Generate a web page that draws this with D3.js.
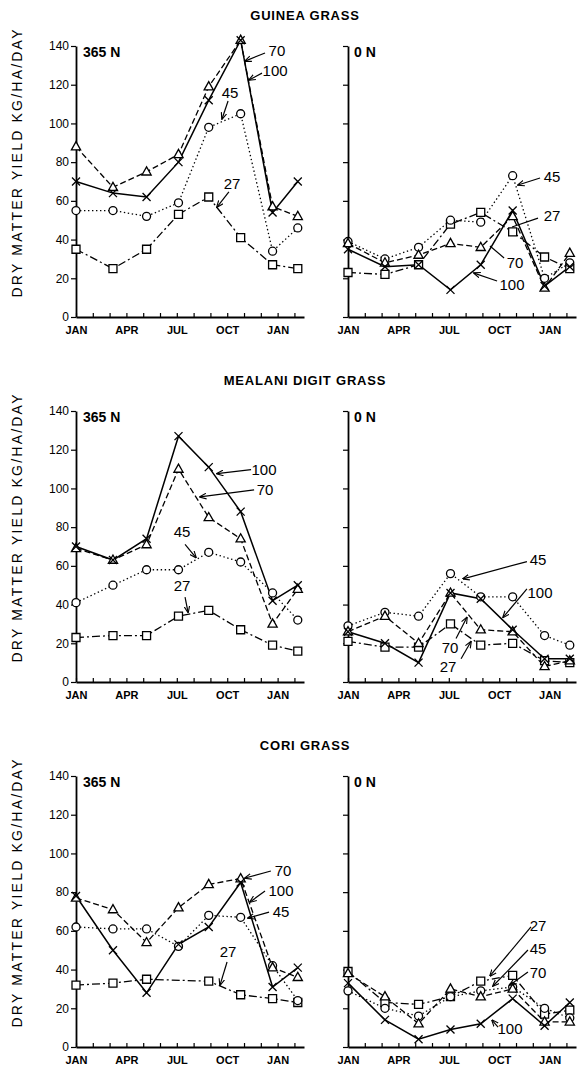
<!DOCTYPE html>
<html>
<head>
<meta charset="utf-8">
<script src="https://cdn.jsdelivr.net/npm/d3@7"></script>
<style>
  body { margin: 0; background: #fff; }
  svg { display: block; font-family: "Liberation Sans", Arial, sans-serif; }
  .axis path, .axis line { stroke: #000; }
  .axis text { fill: #000; }
</style>
</head>
<body>
<div id="chart"></div>
<script>
// harvest dates, months after JAN
var months = [0, 2.2, 4.2, 6.1, 7.9, 9.8, 11.7, 13.2];
var monthLabels = ["JAN", "APR", "JUL", "OCT", "JAN"];
var levels = ["27", "45", "70", "100"];
var grasses = ["GUINEA GRASS", "MEALANI DIGIT GRASS", "CORI GRASS"];
var panelNames = ["365 N", "0 N"];

// yields per level (27, 45, 70, 100), kg/ha/day
var guinea365 = [
  [35, 25, 35, 53, 62, 41, 27, 25],
  [55, 55, 52, 59, 98, 105, 34, 46],
  [88, 67, 75, 84, 119, 143, 57, 52],
  [70, 64, 62, 80, 112, 143, 54, 70]
];
var guinea0 = [
  [23, 22, 27, 48, 54, 44, 31, 25],
  [39, 30, 36, 50, 49, 73, 20, 28],
  [38, 28, 32, 38, 36, 52, 15, 33],
  [35, 26, 27, 14, 27, 55, 16, 26]
];
var mealani365 = [
  [23, 24, 24, 34, 37, 27, 19, 16],
  [41, 50, 58, 58, 67, 62, 46, 32],
  [69, 63, 71, 110, 85, 74, 30, 48],
  [70, 63, 74, 127, 111, 88, 42, 50]
];
var mealani0 = [
  [21, 18, 18, 30, 19, 20, 11, 10],
  [29, 36, 34, 56, 44, 44, 24, 19],
  [26, 34, 20, 46, 27, 26, 8, 11],
  [26, 20, 10, 46, 43, 27, 12, 12]
];
var cori365 = [
  [32, 33, 35, null, 34, 27, 25, 23],
  [62, 61, 61, 52, 68, 67, 42, 24],
  [77, 71, 54, 72, 84, 87, 41, 36],
  [78, 50, 28, 53, 62, 85, 31, 41]
];
var cori0 = [
  [39, 23, 22, 26, 34, 37, 17, 19],
  [29, 20, 16, 26, 29, 31, 20, 15],
  [38, 26, 12, 30, 26, 30, 13, 13],
  [33, 14, 4, 9, 12, 25, 11, 23]
];

// labels: text, text month, text value, arrow from (m, v) to (m, v), arrowhead
var notesGuinea365 = [
  ["70", 11.96, 137.9, 11.25, 136.4, 10.06, 132.2, true],
  ["100", 11.85, 127.1, 11.07, 126, 10.3, 122.4, true],
  ["45", 9.17, 116.2, 9.05, 111.6, 8.69, 102.3, true],
  ["27", 9.29, 69.2, 9.1, 64.6, 8.39, 56.8, true]
];
var notesGuinea0 = [
  ["45", 12.14, 72.8, 11.43, 71.8, 10.12, 68.2, true],
  ["27", 12.14, 52.2, 11.31, 51.1, 9.76, 46.5, false],
  ["70", 9.94, 28.4, 9.29, 30.5, 8.45, 36.7, false],
  ["100", 9.76, 17, 8.87, 18.6, 7.5, 22.7, true]
];
var notesMealani365 = [
  ["100", 11.19, 109.7, 10.42, 109.7, 8.39, 107.6, true],
  ["70", 11.25, 99.3, 10.6, 99.3, 7.38, 95.6, true],
  ["45", 6.31, 77.8, 6.49, 71.1, 7.14, 64.3, true],
  ["27", 6.31, 49.6, 6.49, 43.9, 6.67, 36, true]
];
var notesMealani0 = [
  ["45", 11.31, 63.2, 10.65, 62.2, 6.85, 53.3, true],
  ["100", 11.43, 46, 10.65, 48.1, 9.23, 33.4, true],
  ["70", 6.07, 17.8, 6.43, 22.5, 7.08, 33.4, true],
  ["27", 5.95, 7.8, 6.73, 12, 7.32, 20.9, true]
];
var notesCori365 = [
  ["70", 12.32, 91.4, 11.6, 90.9, 10.06, 87.3, true],
  ["100", 12.2, 80.6, 11.25, 80.6, 10.36, 74.9, true],
  ["45", 12.2, 70.2, 11.49, 69.7, 10.24, 66.6, true],
  ["27", 9.05, 49.1, 8.99, 43.9, 8.57, 32, true]
];
var notesCori0 = [
  ["27", 11.31, 63, 10.89, 62, 8.45, 36.7, true],
  ["45", 11.31, 51.1, 10.71, 50.1, 8.63, 31.5, true],
  ["70", 11.31, 38.7, 10.71, 38.7, 9.64, 32, true],
  ["100", 9.64, 9.3, 8.93, 10.3, 8.57, 13.9, true]
];

var rows = [
  {title: grasses[0], top: 46, panels: [[guinea365, notesGuinea365], [guinea0, notesGuinea0]]},
  {title: grasses[1], top: 411, panels: [[mealani365, notesMealani365], [mealani0, notesMealani0]]},
  {title: grasses[2], top: 776, panels: [[cori365, notesCori365], [cori0, notesCori0]]}
];

//Helper variables
var width = 588, height = 1068,
    pw = 228, ph = 271,
    colLeft = [76, 348];

var dashes = ["8,3,2,3", "1.4,2.6", "6,3", null];

var x = d3.scaleLinear().domain([0, 13.57]).range([0, pw]),
    y = d3.scaleLinear().domain([0, 140]).range([ph, 0]);

var svg = d3.select("#chart").append("svg")
    .attr("width", width)
    .attr("height", height);

var defs = svg.append("defs");
defs.append("marker")
    .attr("id", "arrow")
    .attr("viewBox", "0 0 10 10")
    .attr("refX", 9).attr("refY", 5)
    .attr("markerWidth", 7).attr("markerHeight", 7)
    .attr("markerUnits", "userSpaceOnUse")
    .attr("orient", "auto")
    .append("path")
    .attr("d", "M0,1 L10,5 L0,9")
    .attr("fill", "none")
    .attr("stroke", "#000")
    .attr("stroke-width", 1.6);

var line = d3.line()
    .defined(function(d) { return d.v != null; })
    .x(function(d) { return x(d.m); })
    .y(function(d) { return y(d.v); });

function symbolPath(i) {
  if (i == 0) return "M-4,-4H4V4H-4Z";
  if (i == 1) return "M4,0A4,4 0 1,1 -4,0A4,4 0 1,1 4,0Z";
  if (i == 2) return "M0,-5L4.6,3.2H-4.6Z";
  return "M-4,-4L4,4M4,-4L-4,4";
}

rows.forEach(function(row) {

  svg.append("text")
      .attr("x", 305)
      .attr("y", row.top - 26)
      .attr("text-anchor", "middle")
      .style("font-size", "13px")
      .style("font-weight", "bold")
      .style("letter-spacing", "0.8px")
      .text(row.title);

  svg.append("text")
      .attr("transform", "translate(22," + (row.top + ph / 2 - 18) + ") rotate(-90)")
      .attr("text-anchor", "middle")
      .attr("textLength", 268)
      .attr("lengthAdjust", "spacing")
      .style("font-size", "14px")
      .text("DRY MATTER YIELD    KG/HA/DAY");

  row.panels.forEach(function(panel, p) {
    var series = panel[0], notes = panel[1];

    var g = svg.append("g")
        .attr("transform", "translate(" + colLeft[p] + "," + row.top + ")");

    var yAxis = d3.axisLeft(y)
        .tickValues(d3.range(0, 141, 20))
        .tickSizeInner(5)
        .tickSizeOuter(0)
        .tickPadding(2);
    if (p == 1) yAxis.tickFormat("");

    var xAxis = d3.axisBottom(x)
        .tickValues(d3.range(0, 14))
        .tickSizeInner(-4)
        .tickSizeOuter(0)
        .tickPadding(9)
        .tickFormat(function(m) { return m % 3 == 0 ? monthLabels[m / 3] : ""; });

    var gx = g.append("g")
        .attr("class", "axis axis--x")
        .attr("transform", "translate(0," + ph + ")")
        .call(xAxis);
    gx.select(".domain").attr("stroke-width", 1.8);
    gx.selectAll("line").attr("stroke-width", 1.2);
    gx.selectAll("text")
        .style("font-size", "11px")
        .style("font-weight", "bold")
        .style("font-family", "'Liberation Sans', Arial, sans-serif");

    var gy = g.append("g")
        .attr("class", "axis axis--y")
        .call(yAxis);
    gy.select(".domain").attr("stroke-width", 1.8);
    gy.selectAll("line").attr("stroke-width", 1.2);
    gy.selectAll("text")
        .style("font-size", "12px")
        .style("font-family", "'Liberation Sans', Arial, sans-serif");

    g.append("text")
        .attr("x", p == 0 ? 7 : 6)
        .attr("y", 11)
        .style("font-size", "14px")
        .style("font-weight", "bold")
        .text(panelNames[p]);

    series.forEach(function(vals, i) {
      var pts = months.map(function(m, j) { return {m: m, v: vals[j]}; })
          .filter(function(d) { return d.v != null; });

      g.append("path")
          .datum(pts)
          .attr("fill", "none")
          .attr("stroke", "#000")
          .attr("stroke-width", i == 3 ? 1.5 : 1.3)
          .attr("stroke-dasharray", dashes[i])
          .attr("d", line);
    });

    series.forEach(function(vals, i) {
      var pts = months.map(function(m, j) { return {m: m, v: vals[j]}; })
          .filter(function(d) { return d.v != null; });

      g.selectAll(".mark" + i)
          .data(pts)
          .enter().append("path")
          .attr("class", "mark" + i)
          .attr("transform", function(d) { return "translate(" + x(d.m) + "," + y(d.v) + ")"; })
          .attr("d", symbolPath(i))
          .attr("fill", i == 3 ? "none" : "#fff")
          .attr("stroke", "#000")
          .attr("stroke-width", 1.3);
    });

    notes.forEach(function(n) {
      g.append("line")
          .attr("x1", x(n[3])).attr("y1", y(n[4]))
          .attr("x2", x(n[5])).attr("y2", y(n[6]))
          .attr("stroke", "#000")
          .attr("stroke-width", 1.2)
          .attr("marker-end", n[7] ? "url(#arrow)" : null);

      g.append("text")
          .attr("x", x(n[1]))
          .attr("y", y(n[2]))
          .attr("text-anchor", "middle")
          .attr("dominant-baseline", "central")
          .style("font-size", "15px")
          .text(n[0]);
    });
  });
});
</script>
</body>
</html>
